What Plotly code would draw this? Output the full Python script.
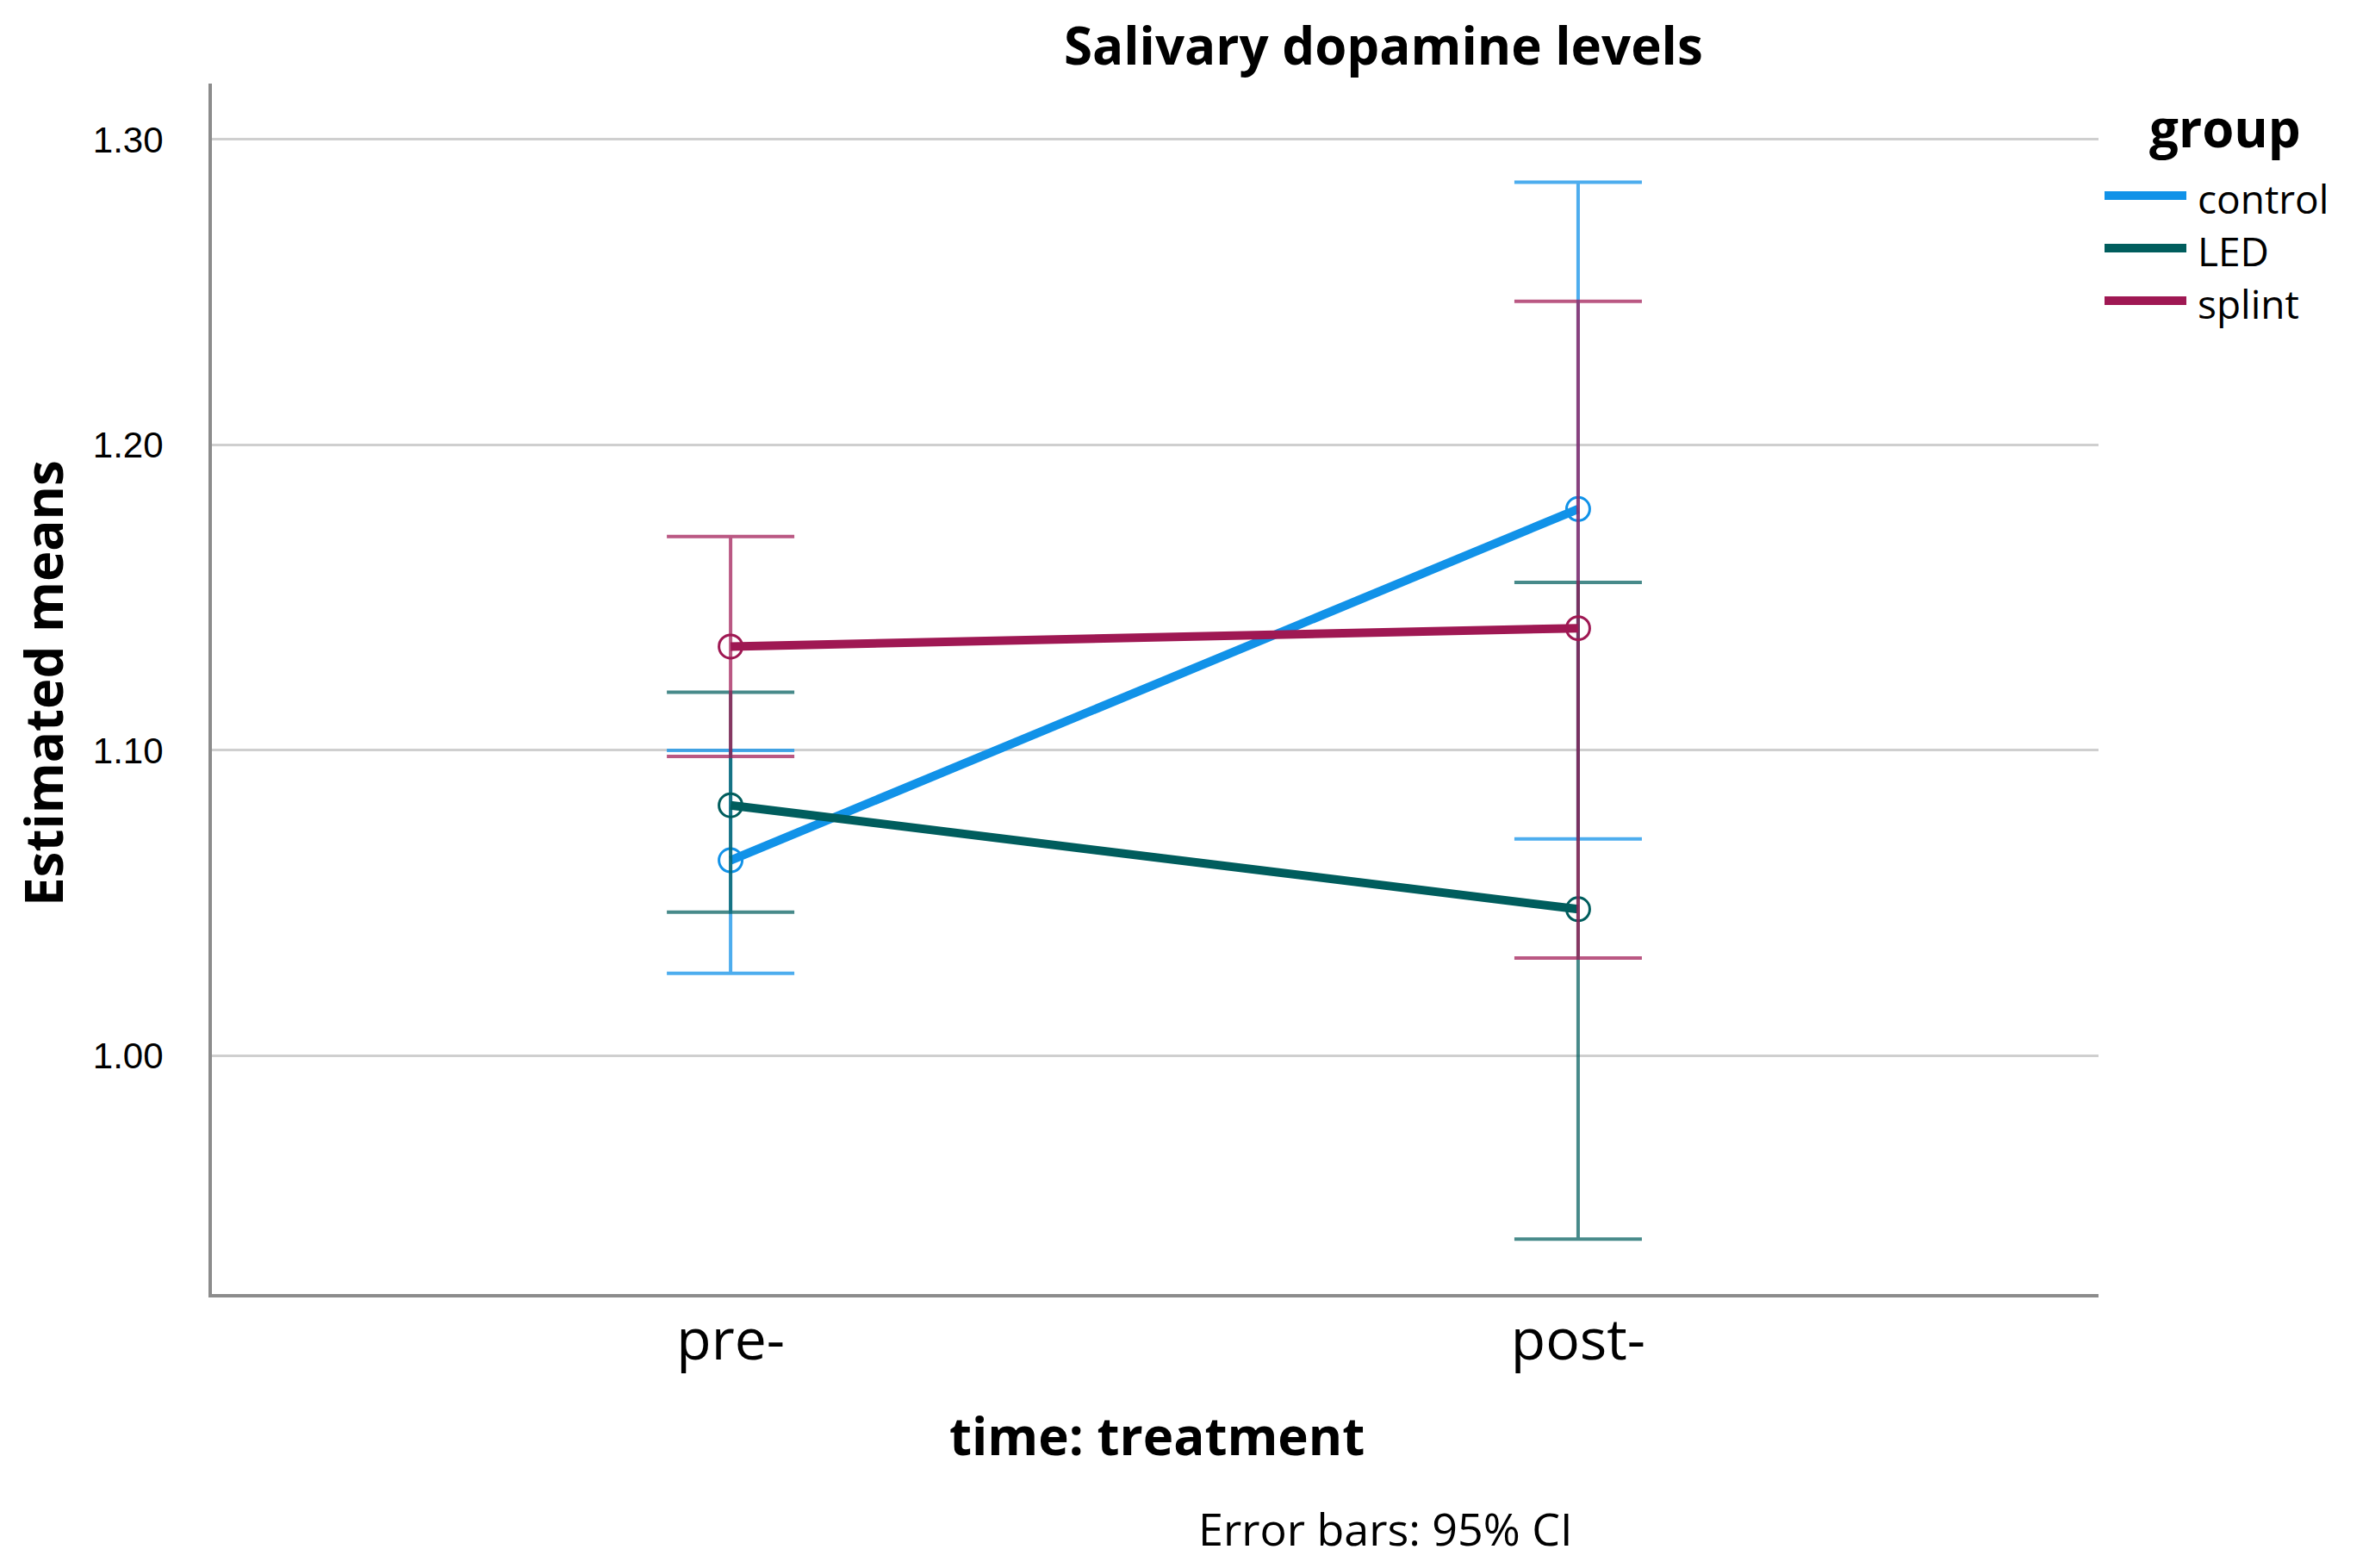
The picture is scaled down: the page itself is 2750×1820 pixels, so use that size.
import plotly.graph_objects as go

# ---- data ----
times = ["pre-", "post-"]
groups = ["control", "LED", "splint"]

control_mean = [1.064, 1.179]
control_low = [1.027, 1.071]
control_high = [1.100, 1.286]

led_mean = [1.082, 1.048]
led_low = [1.047, 0.940]
led_high = [1.119, 1.155]

splint_mean = [1.134, 1.140]
splint_low = [1.098, 1.032]
splint_high = [1.170, 1.247]

y_ticks = [1.00, 1.10, 1.20, 1.30]
y_tick_labels = ["1.00", "1.10", "1.20", "1.30"]

# ---- styles ----
line_colors = ["#1192e8", "#005d5d", "#9f1853"]
bar_colors = ["rgba(17,146,232,0.75)", "rgba(0,93,93,0.72)", "rgba(159,24,83,0.72)"]

OFF = 8  # page body margin offset (screen px -> figure px)
W, H = 2750, 1820
L, R, T, B = 246 - OFF, 2436 - OFF, 97 - OFF, 1502 - OFF  # plot area in figure pixels


def px_x(p):
    return (p - OFF - L) / (R - L)


def px_y(p):
    return (B - (p - OFF)) / (B - T)


fig = go.Figure()

series = [
    (control_mean, control_low, control_high),
    (led_mean, led_low, led_high),
    (splint_mean, splint_low, splint_high),
]

for i, (name, (m, lo, hi)) in enumerate(zip(groups, series)):
    fig.add_trace(go.Scatter(
        x=times, y=m, name=name, mode="lines+markers",
        line=dict(color=line_colors[i], width=10),
        marker=dict(symbol="circle-open", size=27, color=line_colors[i],
                    line=dict(width=3, color=line_colors[i])),
        error_y=dict(type="data", symmetric=False,
                     array=[h - v for h, v in zip(hi, m)],
                     arrayminus=[v - l for v, l in zip(m, lo)],
                     color=bar_colors[i], thickness=4, width=74),
        showlegend=False,
    ))

font_main = "Open Sans, Noto Sans, sans-serif"

fig.update_layout(
    width=W, height=H,
    margin=dict(l=L, r=W - R, t=T, b=H - B, pad=0),
    paper_bgcolor="white", plot_bgcolor="white",
    font=dict(family=font_main, color="#000000"),
    xaxis=dict(
        range=[-0.612, 1.614], showgrid=False, zeroline=False,
        showline=True, linecolor="#8c8c8c", linewidth=4,
        ticks="", tickfont=dict(size=66, family=font_main, color="#000"),
        ticklabelstandoff=-7,
    ),
    yaxis=dict(
        range=[0.922, 1.3183], showgrid=True, gridcolor="#cfcfcf", gridwidth=2.5,
        zeroline=False, showline=True, linecolor="#8c8c8c", linewidth=4,
        tickmode="array", tickvals=y_ticks, ticktext=y_tick_labels,
        ticks="", tickfont=dict(size=42, family="Liberation Sans, Arial, sans-serif", color="#000"),
        ticklabelstandoff=44,
    ),
    showlegend=False,
)

annotations = [
    dict(text="<b>Salivary dopamine levels</b>", xref="paper", yref="paper",
         x=px_x(1606), y=px_y(OFF + 2), xanchor="center", yanchor="top",
         showarrow=False, borderpad=0,
         font=dict(size=60, family=font_main, color="#000")),
    dict(text="Estimated means", xref="paper", yref="paper", x=px_x(50), y=px_y(793),
         xanchor="center", yanchor="middle", textangle=-90, showarrow=False,
         borderpad=0,
         font=dict(size=60, family=font_main, weight=700, color="#000")),
    dict(text="time: treatment", xref="paper", yref="paper", x=px_x(1343), y=px_y(1666),
         xanchor="center", yanchor="middle", showarrow=False,
         font=dict(size=60, family=font_main, weight=700, color="#000")),
    dict(text="Error bars: 95% CI", xref="paper", yref="paper", x=px_x(1608), y=px_y(1774),
         xanchor="center", yanchor="middle", showarrow=False,
         font=dict(size=52, family=font_main, color="#000")),
    dict(text="group", xref="paper", yref="paper", x=px_x(2583), y=px_y(148),
         xanchor="center", yanchor="middle", showarrow=False,
         font=dict(size=60, family=font_main, weight=700, color="#000")),
]

legend_rows_y = [227, 288, 349]
shapes = []
for i, name in enumerate(groups):
    yy = px_y(legend_rows_y[i])
    shapes.append(dict(type="line", xref="paper", yref="paper",
                       x0=px_x(2443), x1=px_x(2538), y0=yy, y1=yy,
                       line=dict(color=line_colors[i], width=10)))
    annotations.append(dict(text=name, xref="paper", yref="paper",
                            x=px_x(2550), y=px_y(legend_rows_y[i] + 3),
                            xanchor="left", yanchor="middle", showarrow=False,
                            borderpad=0,
                            font=dict(size=46, family=font_main, color="#000")))

fig.update_layout(annotations=annotations, shapes=shapes)

fig.write_html("out.html")
